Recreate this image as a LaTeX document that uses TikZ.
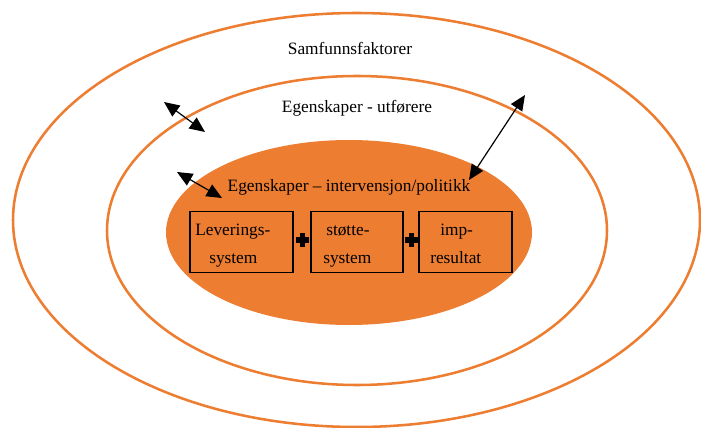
\documentclass[tikz,border=0pt]{standalone}
\usepackage{fontspec}
\setmainfont{Liberation Serif}
\usetikzlibrary{arrows.meta,shapes.geometric}
\definecolor{ringorange}{RGB}{237,125,49}

\tikzset{
  ring/.style={ellipse,draw=ringorange,line width=1.9pt,inner sep=0pt},
  kjerne/.style={ellipse,fill=ringorange,inner sep=0pt},
  boks/.style={draw=black,line width=1.4pt,inner sep=0pt,minimum height=45.75pt},
  tekst/.style={font=\fontsize{13}{15}\selectfont,inner sep=0pt},
  pil/.style={line width=0.9pt,{Triangle[length=11.5pt,width=10pt]}-{Triangle[length=11.5pt,width=10pt]}},
}

\begin{document}
\begin{tikzpicture}[x=0.75pt,y=-0.75pt]
        \useasboundingbox (0,0) rectangle (701,428);

        % ringene
        \node (samfunn) [ring,minimum width=515.25pt,minimum height=310.5pt] at (356.5,220) {};
        \node (utforer) [ring,minimum width=375pt,minimum height=231.75pt] at (357,230.5) {};
        \node (interv) [kjerne,minimum width=274.5pt,minimum height=138.75pt] at (349,232.5) {};

        \node (samfT) [tekst,anchor=base] at (350,55) {Samfunnsfaktorer};
        \node (utfT) [tekst,anchor=base] at (357,113) {Egenskaper - utførere};
        \node (intT) [tekst,anchor=base] at (349,192) {Egenskaper – intervensjon/politikk};

        % boksene
        \node (lev) [boks,minimum width=77.25pt] at (241.5,242) {};
        \node (stotte) [boks,minimum width=69pt] at (357,242) {};
        \node (imp) [boks,minimum width=69.75pt] at (465.5,242) {};

        \node (levA) [tekst,anchor=base west] at (195,235) {Leverings-};
        \node (levB) [tekst,anchor=base west] at (209,263) {system};
        \node (stA) [tekst,anchor=base west] at (326,235) {støtte-};
        \node (stB) [tekst,anchor=base west] at (323,263) {system};
        \node (impA) [tekst,anchor=base west] at (440,235) {imp-};
        \node (impB) [tekst,anchor=base west] at (430,263) {resultat};

        % plusstegn
        \coordinate (p1) at (302.5,240);
        \coordinate (p2) at (411.5,240);
        \foreach \p in {p1,p2} {
          \fill[black] ([shift={(-6.5,-2.6)}]\p) rectangle ++(13,5.2);
          \fill[black] ([shift={(-2.6,-7)}]\p) rectangle ++(5.2,14);
        }

        % piler
        \coordinate (a1s) at (164,102);
        \coordinate (a1e) at (205,132);
        \coordinate (a2s) at (177,172);
        \coordinate (a2e) at (222,198);
        \coordinate (a3s) at (525,95);
        \coordinate (a3e) at (469,180);
        \draw[pil] (a1s) -- (a1e);
        \draw[pil] (a2s) -- (a2e);
        \draw[pil] (a3s) -- (a3e);
\end{tikzpicture}
\end{document}
